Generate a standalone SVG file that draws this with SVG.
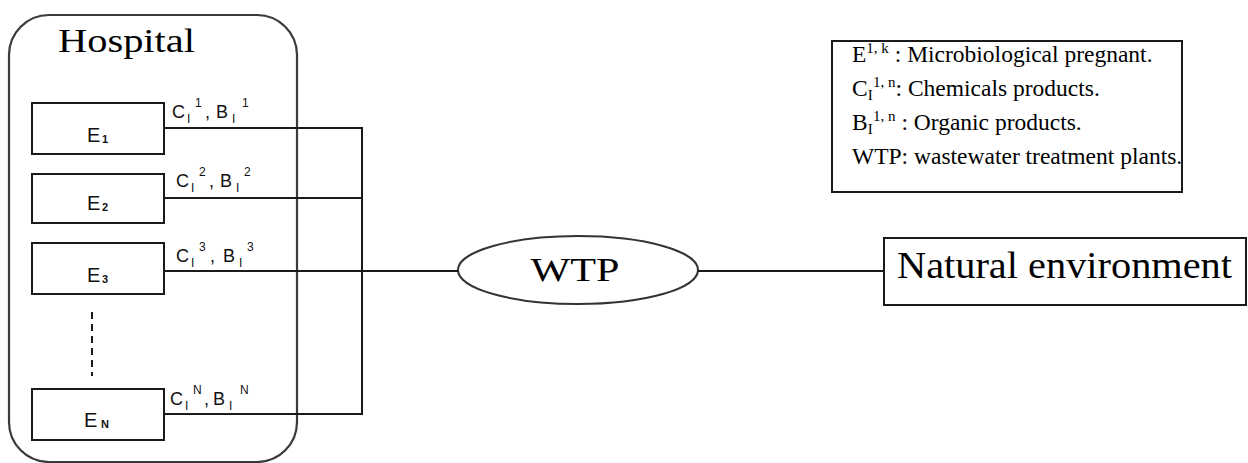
<svg xmlns="http://www.w3.org/2000/svg" width="1248" height="463" viewBox="0 0 1248 463">
  <style>
    .ln { stroke: #1a1a1a; stroke-width: 2; fill: none; }
    .box { stroke: #1a1a1a; stroke-width: 2; fill: #ffffff; }
    .tr { font-family: 'Liberation Serif', 'DejaVu Serif', 'Noto Serif', serif; fill: #000; }
    .sf { font-family: 'Liberation Sans', 'DejaVu Sans', sans-serif; fill: #111; }
    .e { font-size: 20px; }
    .esub { font-size: 11px; font-weight: bold; }
    .lab { font-size: 18px; }
    .labs { font-size: 12px; }
    .leg { font-size: 23.5px; }
    .legs { font-size: 15px; }
  </style>

  <g id="hospital">
    <rect x="9" y="15" width="288" height="447" rx="40" ry="40" fill="none" stroke="#3a3a3a" stroke-width="2.2"/>
    <text class="tr" font-family="'Liberation Serif', 'DejaVu Serif', serif" x="58" y="52" font-size="34" textLength="137" lengthAdjust="spacingAndGlyphs">Hospital</text>
    <line x1="92" y1="312" x2="92" y2="376" stroke="#1a1a1a" stroke-width="2" stroke-dasharray="7,5"/>
  </g>

  <g id="e1">
    <rect class="box" x="32" y="103" width="132" height="51"/>
    <text class="sf e" x="87" y="142">E</text>
    <text class="sf esub" x="102" y="143">1</text>
  </g>
  <g id="e2">
    <rect class="box" x="32" y="174" width="132" height="49"/>
    <text class="sf e" x="87" y="210">E</text>
    <text class="sf esub" x="102" y="211">2</text>
  </g>
  <g id="e3">
    <rect class="box" x="32" y="243" width="132" height="51"/>
    <text class="sf e" x="87" y="282">E</text>
    <text class="sf esub" x="102" y="283">3</text>
  </g>
  <g id="eN">
    <rect class="box" x="32" y="389" width="132" height="51"/>
    <text class="sf e" x="84" y="427">E</text>
    <text class="sf esub" x="101" y="428">N</text>
  </g>

  <g id="wtp">
    <ellipse cx="578" cy="270" rx="120" ry="34" fill="#fff" stroke="#333" stroke-width="2"/>
    <text class="tr" font-family="'Liberation Serif', 'DejaVu Serif', serif" x="575" y="281" font-size="33" text-anchor="middle" textLength="89" lengthAdjust="spacingAndGlyphs">WTP</text>
  </g>

  <g id="natural-environment">
    <rect class="box" x="884" y="238" width="362" height="67"/>
    <text class="tr" font-family="'Liberation Serif', 'DejaVu Serif', serif" x="897" y="278" font-size="37" textLength="335" lengthAdjust="spacingAndGlyphs">Natural environment</text>
  </g>

  <g id="legend" font-family="'Liberation Serif', 'DejaVu Serif', serif">
    <rect class="box" x="832" y="41" width="350" height="151"/>
    <text class="tr leg" x="852" y="62">E<tspan class="legs" dy="-9">1, k</tspan><tspan dy="9"> : Microbiological pregnant.</tspan></text>
    <text class="tr leg" x="852" y="96">C<tspan class="legs" dy="4">I</tspan><tspan class="legs" x="873" dy="-13">1, n</tspan><tspan dy="9">: Chemicals products.</tspan></text>
    <text class="tr leg" x="852" y="130">B<tspan class="legs" dy="4">I</tspan><tspan class="legs" x="873" dy="-13">1, n</tspan><tspan dy="9"> : Organic products.</tspan></text>
    <text class="tr leg" x="852" y="164">WTP: wastewater treatment plants.</text>
  </g>

  <g id="connectors">
    <polyline class="ln" points="164,128 362,128 362,414 164,414"/>
    <line class="ln" x1="164" y1="198" x2="362" y2="198"/>
    <line class="ln" x1="164" y1="271" x2="458" y2="271"/>
    <line class="ln" x1="698" y1="271" x2="884" y2="271"/>

    <g class="sf">
      <text class="lab" x="172" y="118">C</text><text class="labs" x="187" y="123">I</text><text class="labs" x="195" y="107">1</text><text class="lab" x="205" y="118">,</text>
      <text class="lab" x="216" y="118">B</text><text class="labs" x="232" y="123">I</text><text class="labs" x="242" y="107">1</text>

      <text class="lab" x="176" y="187">C</text><text class="labs" x="191" y="192">I</text><text class="labs" x="199" y="176">2</text><text class="lab" x="209" y="187">,</text>
      <text class="lab" x="220" y="187">B</text><text class="labs" x="236" y="192">I</text><text class="labs" x="244" y="176">2</text>

      <text class="lab" x="176" y="262">C</text><text class="labs" x="191" y="267">I</text><text class="labs" x="199" y="251">3</text><text class="lab" x="210" y="262">,</text>
      <text class="lab" x="223" y="262">B</text><text class="labs" x="239" y="267">I</text><text class="labs" x="247" y="251">3</text>

      <text class="lab" x="170" y="405">C</text><text class="labs" x="185" y="410">I</text><text class="labs" x="193" y="394">N</text><text class="lab" x="204" y="405">,</text>
      <text class="lab" x="213" y="405">B</text><text class="labs" x="229" y="410">I</text><text class="labs" x="240" y="394">N</text>
    </g>
  </g>
</svg>
